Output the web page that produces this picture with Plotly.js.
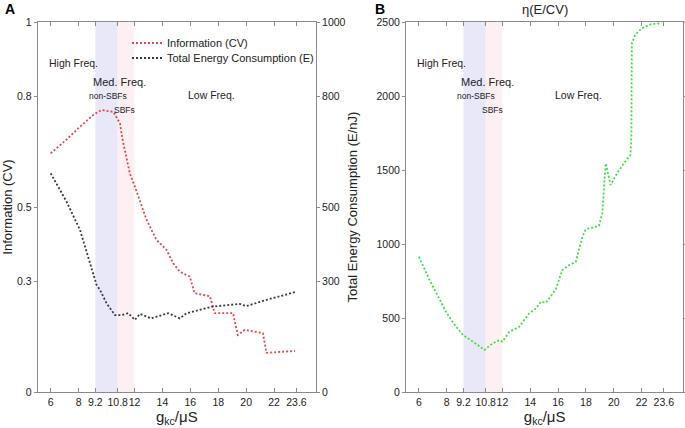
<!DOCTYPE html>
<html>
<head>
<meta charset="utf-8">
<script src="https://cdn.plot.ly/plotly-3.0.1.min.js"></script>
<style>html,body{margin:0;padding:0;background:#fff;}#chart{width:685px;height:428px;}</style>
</head>
<body>
<div id="chart"></div>
<script>
// ---- data ----
const xTicks = [6, 8, 9.2, 10.8, 12, 14, 16, 18, 20, 22, 23.6];
const xTickText = ['6', '8', '9.2', '10.8', '12', '14', '16', '18', '20', '22', '23.6'];
const cvTicks = [0, 0.3, 0.5, 0.8, 1];
const eTicks = [0, 300, 500, 800, 1000];
const etaTicks = [0, 500, 1000, 1500, 2000, 2500];
const bandEdges = [9.2, 10.8, 12];

const cvX = [6.0, 7.1, 8.1, 9.05, 9.65, 10.5, 10.96, 11.15, 11.67, 12.03, 12.87, 13.58, 14.3, 14.77, 15.25, 15.96, 16.3, 17.4, 17.75, 19.06, 19.4, 19.9, 21.2, 21.45, 23.5];
const cvY = [0.645, 0.681, 0.717, 0.749, 0.762, 0.757, 0.726, 0.681, 0.591, 0.555, 0.465, 0.411, 0.384, 0.348, 0.325, 0.312, 0.267, 0.259, 0.213, 0.213, 0.154, 0.168, 0.159, 0.106, 0.111];

const eX = [6.0, 7.14, 8.1, 8.81, 9.29, 9.53, 10.0, 10.6, 11.07, 11.55, 12.03, 12.39, 13.2, 14.41, 15.25, 15.73, 17.63, 19.54, 20.0, 21.45, 23.6];
const eY = [591, 514, 438, 348, 289, 276, 240, 208, 208, 213, 195, 211, 199, 213, 199, 213, 231, 238, 232, 249, 271];

const etaX = [6.0, 6.8, 7.3, 8.0, 8.6, 9.17, 9.88, 10.71, 11.3, 11.78, 12.0, 12.5, 13.21, 13.93, 14.41, 14.77, 15.13, 15.84, 16.3, 16.8, 17.27, 17.75, 17.99, 18.94, 19.18, 19.42, 19.78, 20.25, 20.72, 21.2, 21.27, 21.3, 21.53, 22.0, 22.7, 23.45];
const etaY = [914, 750, 660, 532, 450, 385, 340, 284, 329, 351, 340, 407, 441, 532, 565, 610, 603, 695, 824, 858, 880, 1049, 1099, 1122, 1207, 1545, 1399, 1478, 1545, 1601, 1725, 2356, 2412, 2457, 2486, 2491];

const regionLabels = ['High Freq.', 'Med. Freq.', 'non-SBFs', 'SBFs', 'Low Freq.'];

// ---- styling ----
const FONT = 'Liberation Sans, Arial, sans-serif';
const AX = '#8a8a8a';
const TXT = '#222';
const DOT = '2px,2px';

const traces = [
  {x: cvX, y: cvY, xaxis: 'x', yaxis: 'y', mode: 'lines', name: 'Information (CV)', legend: 'legend',
   line: {color: '#e4484c', width: 1.8, dash: DOT}},
  {x: eX, y: eY, xaxis: 'x', yaxis: 'y2', mode: 'lines', name: 'Total Energy Consumption (E)', legend: 'legend2',
   line: {color: '#3a3a3a', width: 1.8, dash: DOT}},
  {x: etaX, y: etaY, xaxis: 'x2', yaxis: 'y3', mode: 'lines', name: 'η(E/CV)', showlegend: false,
   line: {color: '#3ee03e', width: 1.8, dash: DOT}}
];

const yDom = [36/428, 406/428];
function xAxis(domain, anchor) {
  return {domain: domain, anchor: anchor, range: [5.07, 25], tickvals: xTicks, ticktext: xTickText,
    tickangle: 0, ticks: 'inside', ticklen: 4, tickcolor: AX, showline: true, linecolor: AX, linewidth: 1,
    mirror: 'ticks', showgrid: false, zeroline: false,
    tickfont: {family: FONT, size: 10.5, color: TXT},
    title: {text: 'g<sub>kc</sub>/μS', font: {family: FONT, size: 15, color: TXT}, standoff: 2}};
}
function yAxis(extra) {
  return Object.assign({domain: yDom, ticks: 'outside', ticklen: 3, tickcolor: AX, showline: true,
    linecolor: AX, linewidth: 1, showgrid: false, zeroline: false,
    tickfont: {family: FONT, size: 10.5, color: TXT}}, extra);
}

const shapes = [];
[['x', 'y'], ['x2', 'y3']].forEach(([xr, yr]) => {
  shapes.push({type: 'rect', xref: xr, yref: yr + ' domain', x0: bandEdges[0], x1: bandEdges[1], y0: 0, y1: 1,
    fillcolor: '#e8e8f8', line: {width: 0}, layer: 'below'});
  shapes.push({type: 'rect', xref: xr, yref: yr + ' domain', x0: bandEdges[1], x1: bandEdges[2], y0: 0, y1: 1,
    fillcolor: '#fdf0f3', line: {width: 0}, layer: 'below'});
});

// label positions in fraction of y-domain
const labelPos = [
  {x: 7.6, y: 0.889, size: 10.5},
  {x: 10.9, y: 0.839, size: 11},
  {x: 10.1, y: 0.800, size: 8.5},
  {x: 11.3, y: 0.762, size: 8.5},
  {x: 17.5, y: 0.803, size: 10.5}
];
const annotations = [];
[['x', 'y'], ['x2', 'y3']].forEach(([xr, yr]) => {
  regionLabels.forEach((t, i) => {
    annotations.push({text: t, xref: xr, yref: yr + ' domain', x: labelPos[i].x, y: labelPos[i].y,
      xanchor: 'center', yanchor: 'middle',
      showarrow: false, font: {family: FONT, size: labelPos[i].size, color: TXT}});
  });
});
annotations.push({text: '<b>A</b>', xref: 'paper', yref: 'paper', x: 4/685, y: 1,
  xanchor: 'left', yanchor: 'top', borderpad: 0,
  showarrow: false, font: {family: FONT, size: 14, color: '#000'}});
annotations.push({text: '<b>B</b>', xref: 'paper', yref: 'paper', x: 374/685, y: 1,
  xanchor: 'left', yanchor: 'top', borderpad: 0,
  showarrow: false, font: {family: FONT, size: 14, color: '#000'}});
annotations.push({text: 'η(E/CV)', xref: 'x2 domain', yref: 'paper', x: 0.5, y: 1 - 10/428,
  xanchor: 'center', yanchor: 'middle',
  showarrow: false, font: {family: FONT, size: 13, color: TXT}});

const legendBase = {xanchor: 'left', yanchor: 'middle', bgcolor: 'rgba(0,0,0,0)', borderwidth: 0,
  font: {family: FONT, size: 11, color: TXT}, itemwidth: 30};

const layout = {
  width: 685, height: 428,
  margin: {l: 0, r: 0, t: 0, b: 0},
  paper_bgcolor: '#fff', plot_bgcolor: 'rgba(0,0,0,0)',
  showlegend: true,
  legend: Object.assign({x: 127/685, y: 1 - 43/428}, legendBase),
  legend2: Object.assign({x: 127/685, y: 1 - 58/428}, legendBase),
  xaxis: xAxis([37.7/685, 316/685], 'y'),
  yaxis: yAxis({anchor: 'x', range: [0, 1], tickvals: cvTicks, ticktext: ['0', '0.3', '0.5', '0.8', '1'],
    title: {text: 'Information (CV)', font: {family: FONT, size: 13, color: TXT}, standoff: 6}}),
  yaxis2: yAxis({anchor: 'x', overlaying: 'y', side: 'right', range: [0, 1000], tickvals: eTicks,
    title: {text: 'Total Energy Consumption (E/nJ)', font: {family: FONT, size: 13, color: TXT}, standoff: 3}}),
  xaxis2: xAxis([406/685, 683.3/685], 'y3'),
  yaxis3: yAxis({anchor: 'x2', range: [0, 2500], tickvals: etaTicks, mirror: 'ticks'}),
  shapes: shapes,
  annotations: annotations
};

Plotly.newPlot('chart', traces, layout, {staticPlot: true, displayModeBar: false});
</script>
</body>
</html>
